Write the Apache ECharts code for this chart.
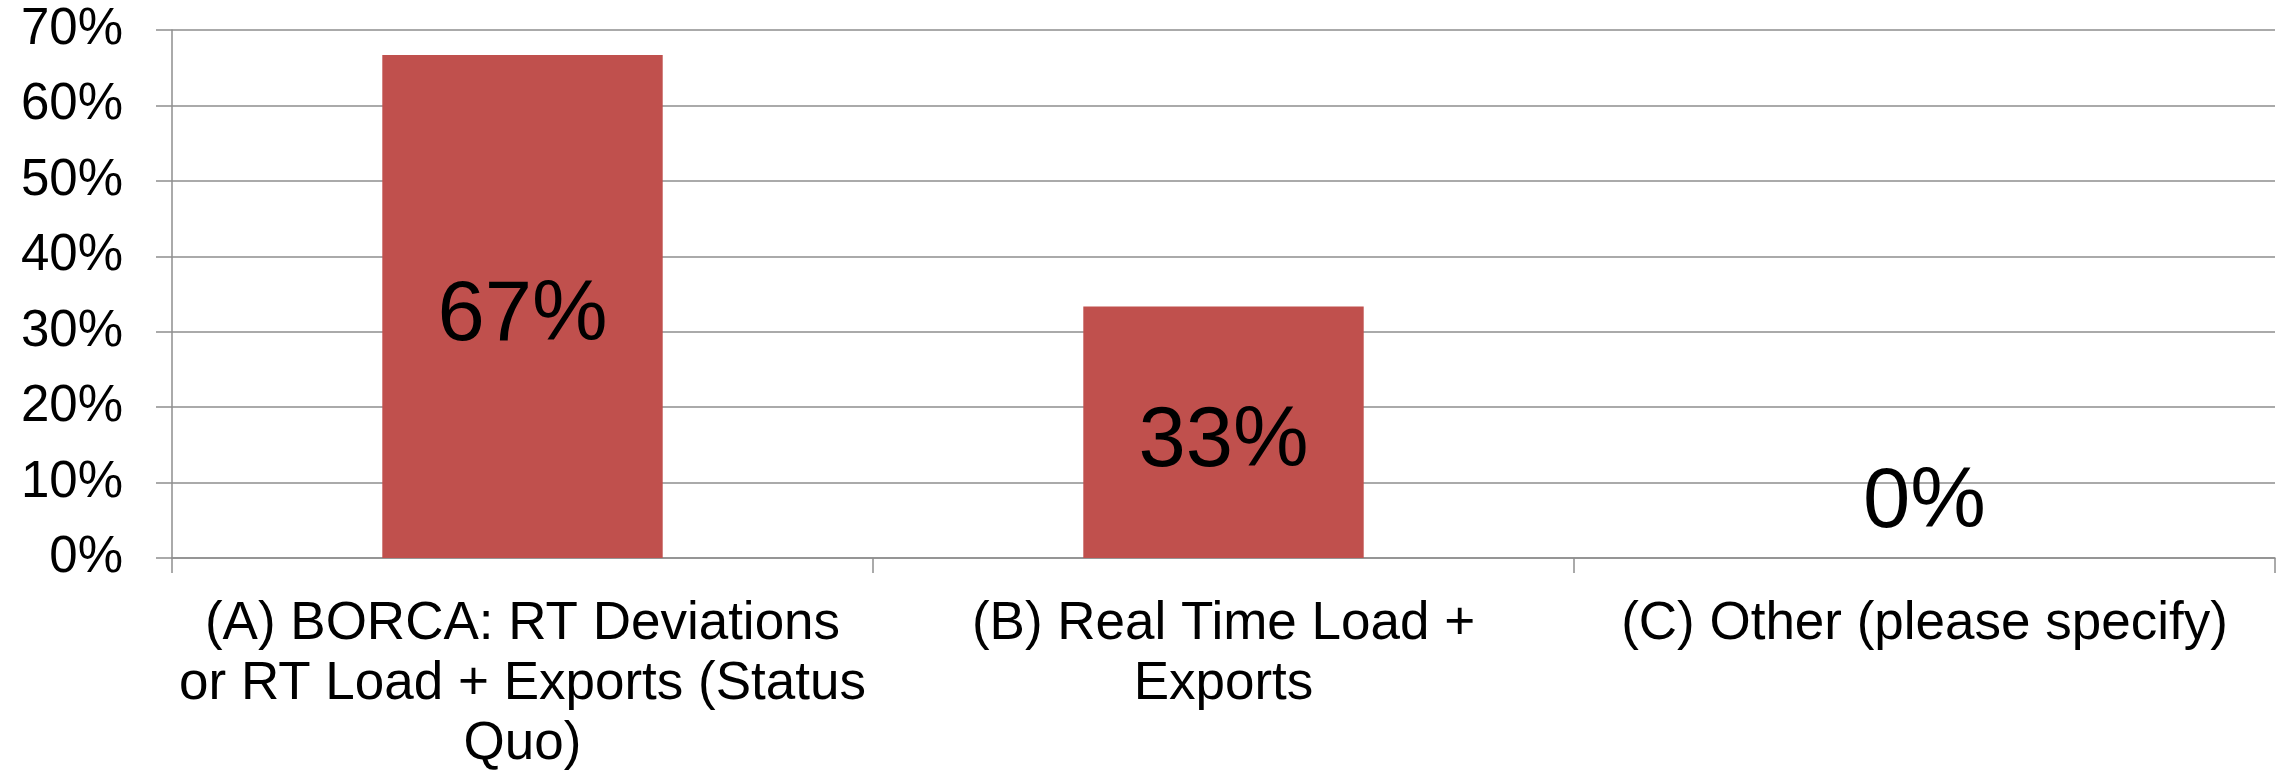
<!DOCTYPE html>
<html>
<head>
<meta charset="utf-8">
<script src="https://cdn.jsdelivr.net/npm/echarts@6/dist/echarts.min.js"></script>
<style>
html,body{margin:0;padding:0;background:#fff;}
#chart{width:2292px;height:778px;}
</style>
</head>
<body>
<div id="chart"></div>
<script>
var categories = [
  "(A) BORCA: RT Deviations\nor RT Load + Exports (Status\nQuo)",
  "(B) Real Time Load +\nExports",
  "(C) Other (please specify)"
];
var values = [66.67, 33.33, 0];
var valueLabels = ["67%", "33%", "0%"];
var yTicks = [0, 10, 20, 30, 40, 50, 60, 70];

var FONT = "'Liberation Sans', Arial, sans-serif";
var GRID_COLOR = "#8e8e8e";

var chart = echarts.init(document.getElementById('chart'), null, {renderer: 'canvas'});

var seriesData = values.map(function (v, i) {
  var item = {value: v};
  if (v === 0) {
    item.label = {position: 'top', distance: 9, offset: [0, 0]};
  }
  return item;
});

chart.setOption({
  animation: false,
  backgroundColor: '#ffffff',
  grid: {left: 172, right: 17, top: 30, bottom: 220, containLabel: false},
  xAxis: {
    type: 'category',
    data: categories,
    axisLine: {show: true, lineStyle: {color: GRID_COLOR, width: 1.5}},
    axisTick: {show: true, length: 15, lineStyle: {color: GRID_COLOR, width: 1.5}},
    axisLabel: {
      interval: 0,
      margin: 36,
      color: '#000',
      fontFamily: FONT,
      fontSize: 53,
      lineHeight: 60,
      align: 'center'
    }
  },
  yAxis: {
    type: 'value',
    min: yTicks[0],
    max: yTicks[yTicks.length - 1],
    interval: yTicks[1] - yTicks[0],
    axisLine: {show: true, lineStyle: {color: GRID_COLOR, width: 1.5}},
    axisTick: {show: true, length: 16, lineStyle: {color: GRID_COLOR, width: 1.5}},
    splitLine: {show: true, lineStyle: {color: GRID_COLOR, width: 1.5}},
    axisLabel: {
      margin: 49,
      color: '#000',
      fontFamily: FONT,
      fontSize: 51,
      formatter: function (v) { return v + '%'; }
    }
  },
  series: [{
    type: 'bar',
    data: seriesData,
    barWidth: '40%',
    itemStyle: {color: '#C0504D'},
    label: {
      show: true,
      position: 'inside',
      offset: [0, 10],
      color: '#000',
      fontFamily: FONT,
      fontSize: 85,
      lineHeight: 90,
      formatter: function (p) { return valueLabels[p.dataIndex]; }
    }
  }]
});
</script>
</body>
</html>
